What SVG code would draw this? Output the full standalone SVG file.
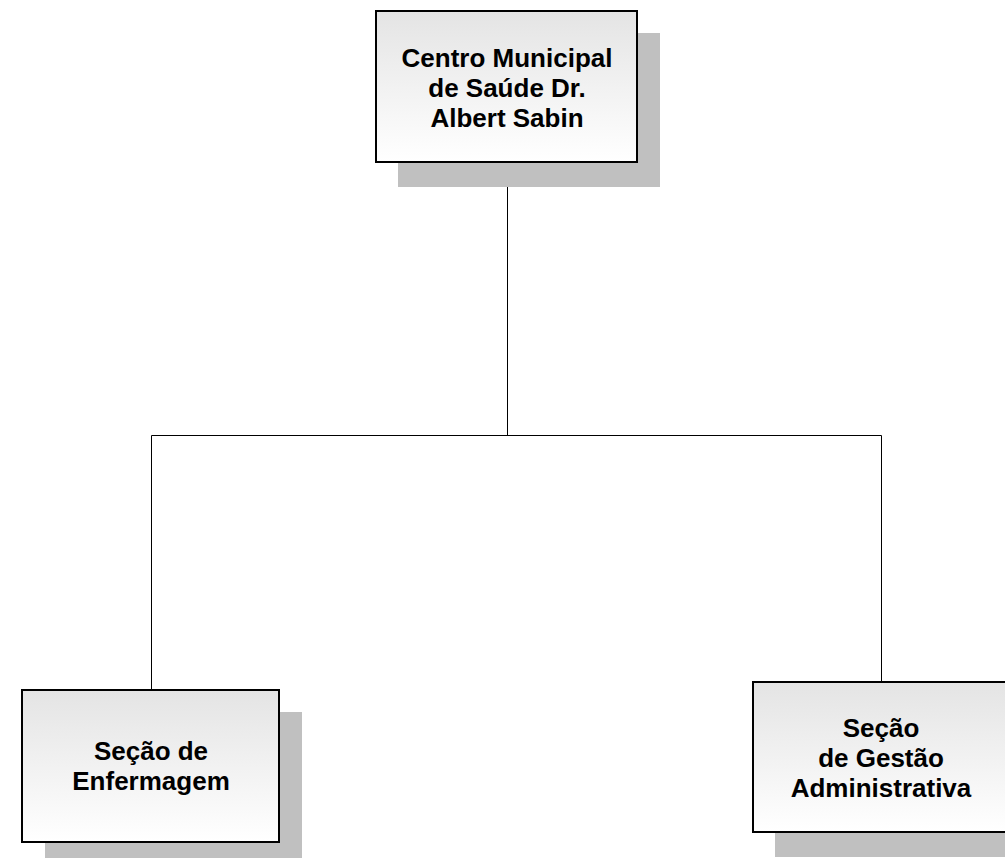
<svg xmlns="http://www.w3.org/2000/svg" width="1005" height="858" viewBox="0 0 1005 858">
<defs>
<linearGradient id="g" x1="0" y1="0" x2="0" y2="1">
<stop offset="0" stop-color="#e4e4e4"/>
<stop offset="1" stop-color="#ffffff"/>
</linearGradient>
</defs>
<style>
.sh{fill:#c0c0c0}
.bx{fill:url(#g);stroke:#000;stroke-width:2}
.t{font-family:"Liberation Sans",Arial,sans-serif;font-weight:bold;font-size:26px;text-anchor:middle;fill:#000}
.c{stroke:#000;stroke-width:1;fill:none}
</style>
<rect width="1005" height="858" fill="#fff"/>
<g id="connectors">
<path class="c" d="M507.5 162V435.5M151.5 435.5H881.5M151.5 435.5V690M881.5 435.5V682"/>
</g>
<g id="centro">
<rect class="sh" x="398" y="33" width="262" height="154"/>
<rect class="bx" x="376" y="11" width="261" height="151"/>
<text class="t" x="507" y="67">Centro Municipal</text>
<text class="t" x="507" y="97">de Saúde Dr.</text>
<text class="t" x="507" y="127">Albert Sabin</text>
</g>
<g id="enfermagem">
<rect class="sh" x="45" y="712" width="257" height="146"/>
<rect class="bx" x="22" y="690" width="257" height="152"/>
<text class="t" x="151" y="760">Seção de</text>
<text class="t" x="151" y="790">Enfermagem</text>
</g>
<g id="gestao">
<rect class="sh" x="775" y="705" width="257" height="152"/>
<rect class="bx" x="753" y="682" width="257" height="150"/>
<text class="t" x="881" y="737">Seção</text>
<text class="t" x="881" y="767">de Gestão</text>
<text class="t" x="881" y="797">Administrativa</text>
</g>
</svg>
